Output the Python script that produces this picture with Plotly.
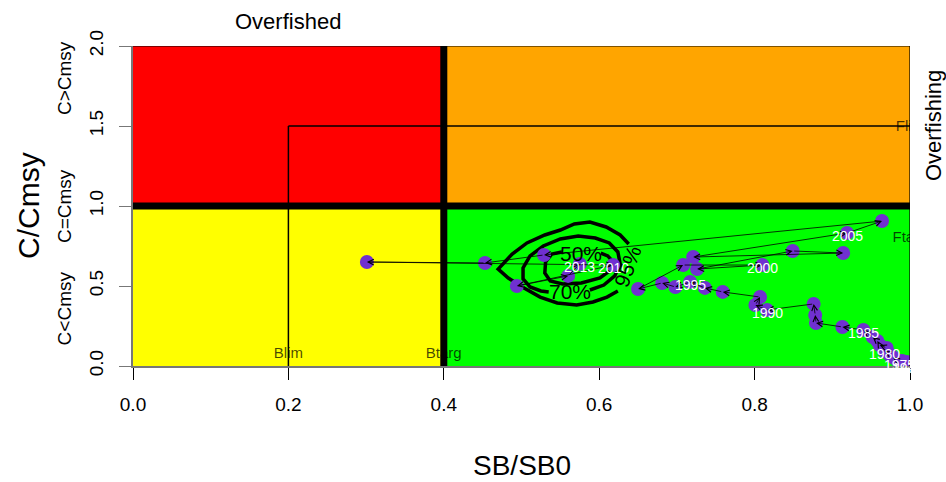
import plotly.graph_objects as go

# stock trajectory (SB/SB0 vs C/Cmsy), one point per year
years = list(range(1970, 2014))
sb = [0.997, 0.995, 0.996, 0.992, 0.990, 0.987, 0.983, 0.978, 0.974, 0.972,
      0.967, 0.970, 0.961, 0.958, 0.952, 0.940, 0.913, 0.879, 0.878, 0.876,
      0.816, 0.801, 0.807, 0.759, 0.736, 0.717, 0.698, 0.681, 0.650, 0.708,
      0.810, 0.726, 0.849, 0.914, 0.721, 0.919, 0.964, 0.529, 0.453, 0.301,
      0.618, 0.494, 0.560, 0.575]
catch = [0.006, 0.013, 0.025, 0.019, 0.031, 0.025, 0.038, 0.056, 0.069, 0.081,
         0.094, 0.113, 0.131, 0.156, 0.181, 0.225, 0.244, 0.269, 0.319, 0.388,
         0.350, 0.381, 0.431, 0.463, 0.488, 0.525, 0.494, 0.519, 0.481, 0.631,
         0.631, 0.606, 0.719, 0.706, 0.681, 0.831, 0.906, 0.694, 0.644, 0.650,
         0.631, 0.500, 0.563, 0.638]
label_years = [1970, 1975, 1980, 1985, 1990, 1995, 2000, 2005, 2010, 2013]

# reference points
blim = 0.2
btarg = 0.4
flim = 1.5
ftarg = 0.8

# density contours of the last years
c95_x = [0.638, 0.627, 0.609, 0.588, 0.568, 0.550, 0.530, 0.507, 0.488, 0.470,
         0.483, 0.501, 0.524, 0.546, 0.571, 0.592, 0.610, 0.624]
c95_y = [0.763, 0.819, 0.869, 0.900, 0.888, 0.850, 0.819, 0.769, 0.700, 0.606,
         0.550, 0.494, 0.431, 0.394, 0.381, 0.400, 0.431, 0.469]
c70_x = [0.588, 0.606, 0.620, 0.627, 0.624, 0.613, 0.595, 0.573, 0.550, 0.528,
         0.511, 0.502, 0.502, 0.511, 0.525, 0.535]
c70_y = [0.475, 0.506, 0.563, 0.638, 0.713, 0.769, 0.800, 0.813, 0.794, 0.750,
         0.688, 0.613, 0.544, 0.494, 0.469, 0.463]
c50_x = [0.552, 0.539, 0.531, 0.530, 0.537, 0.553, 0.577, 0.601, 0.615, 0.618,
         0.611, 0.602]
c50_y = [0.713, 0.700, 0.650, 0.581, 0.531, 0.513, 0.519, 0.550, 0.600, 0.650,
         0.688, 0.706]
contour_labels = ["50%", "70%", "95%"]
contour_lab_x = [0.577, 0.562, 0.636]
contour_lab_y = [0.706, 0.463, 0.625]

x_ticks = [0, 0.2, 0.4, 0.6, 0.8, 1.0]
x_ticktext = ["0.0", "0.2", "0.4", "0.6", "0.8", "1.0"]
y_ticks = [0, 0.5, 1.0, 1.5, 2.0]
y_ticktext = ["0.0", "0.5", "1.0", "1.5", "2.0"]

font = "Liberation Sans, Arial, sans-serif"

fig = go.Figure()

# contours
for cx, cy in [(c95_x, c95_y), (c70_x, c70_y), (c50_x, c50_y)]:
    fig.add_trace(go.Scatter(x=cx, y=cy, mode="lines",
                             line=dict(color="black", width=3.5),
                             hoverinfo="skip"))

# points
fig.add_trace(go.Scatter(x=sb, y=catch, mode="markers",
                         marker=dict(size=14, color="#7030d0"),
                         text=[str(y) for y in years]))

# reference point labels (clipped at the plot edge like the original)
fig.add_trace(go.Scatter(x=[blim, btarg, 1.0, 1.0], y=[0.075, 0.075, flim - 0.01, ftarg],
                         mode="text", text=["Blim", "Btarg", "Flim", "Ftarg"],
                         textfont=dict(size=15, color="rgba(0,0,0,0.72)", family=font),
                         cliponaxis=True, hoverinfo="skip"))

# quadrants
quads = [
    (0, btarg, 1, 2, "#ff0000"),
    (btarg, 1, 1, 2, "#ffa500"),
    (0, btarg, 0, 1, "#ffff00"),
    (btarg, 1, 0, 1, "#00ff00"),
]
for x0, x1, y0, y1, col in quads:
    fig.add_shape(type="rect", x0=x0, x1=x1, y0=y0, y1=y1, fillcolor=col,
                  line_width=0, layer="below")

fig.add_shape(type="line", x0=blim, x1=blim, y0=0, y1=flim, line=dict(color="black", width=1.5))
fig.add_shape(type="line", x0=blim, x1=1, y0=flim, y1=flim, line=dict(color="black", width=1.5))
fig.add_shape(type="line", x0=btarg, x1=btarg, y0=0, y1=2, line=dict(color="black", width=7))
fig.add_shape(type="line", x0=0, x1=1, y0=1, y1=1, line=dict(color="black", width=7))
fig.add_shape(type="line", x0=1, x1=1, y0=0, y1=2, line=dict(color="black", width=1.2))
fig.add_shape(type="line", x0=0, x1=1, y0=2, y1=2, line=dict(color="black", width=1))

# arrows between consecutive years
for i in range(1, len(years)):
    fig.add_annotation(x=sb[i], y=catch[i], ax=sb[i - 1], ay=catch[i - 1],
                       xref="x", yref="y", axref="x", ayref="y", text="",
                       showarrow=True, arrowhead=5, arrowsize=1.4, arrowwidth=0.8,
                       arrowcolor="black", standoff=0)

# year labels
for yr in label_years:
    i = years.index(yr)
    fig.add_annotation(x=sb[i], y=catch[i], text=str(yr), showarrow=False, yshift=-3,
                       font=dict(size=14, color="white", family=font))

# contour labels
for lab, lx, ly, ang in zip(contour_labels, contour_lab_x, contour_lab_y, [0, 0, -70]):
    fig.add_annotation(x=lx, y=ly, text=lab, showarrow=False, textangle=ang,
                       font=dict(size=21, color="black", family=font))

# side texts
fig.add_annotation(x=blim, y=1, xref="x", yref="paper", yshift=25, yanchor="middle",
                   text="Overfished", showarrow=False,
                   font=dict(size=22, color="black", family=font))
fig.add_annotation(x=1, y=1.5, xref="paper", yref="y", xshift=23, xanchor="center",
                   text="Overfishing", textangle=-90, showarrow=False,
                   font=dict(size=22, color="black", family=font))
for lab, ly in [("C>Cmsy", 1.8), ("C=Cmsy", 1.0), ("C<Cmsy", 0.36)]:
    fig.add_annotation(x=0, y=ly, xref="paper", yref="y", xshift=-69, xanchor="center",
                       text=lab, textangle=-90, showarrow=False,
                       font=dict(size=19, color="black", family=font))
fig.add_annotation(x=0, y=1, xref="paper", yref="y", xshift=-105, xanchor="center",
                   text="C/Cmsy", textangle=-90, showarrow=False,
                   font=dict(size=30, color="black", family=font))
fig.add_annotation(x=0.5, y=0, xref="paper", yref="paper", yshift=-99, yanchor="middle",
                   text="SB/SB0", showarrow=False,
                   font=dict(size=28, color="black", family=font))

fig.update_layout(
    width=946, height=482,
    margin=dict(l=133, r=36, t=46, b=116),
    plot_bgcolor="white", paper_bgcolor="white",
    showlegend=False,
    font=dict(family=font, color="black"),
    xaxis=dict(range=[0, 1], tickvals=x_ticks, ticktext=x_ticktext, showgrid=False,
               zeroline=False, showline=True, linecolor="#777777", linewidth=2,
               ticks="outside", ticklen=12, tickcolor="black", tickwidth=1,
               tickfont=dict(size=19), ticklabelstandoff=8),
    yaxis=dict(range=[0, 2], tickvals=y_ticks, ticktext=y_ticktext, showgrid=False,
               zeroline=False, showline=True, linecolor="#777777", linewidth=2,
               ticks="outside", ticklen=12, tickcolor="#777777", tickwidth=1,
               tickangle=-90, tickfont=dict(size=19), ticklabelstandoff=8),
)

# drop the default page margin so the figure fills the window
fig.write_html("out.html", config={"displayModeBar": False},
               post_script="document.body.style.margin = '0px';")
